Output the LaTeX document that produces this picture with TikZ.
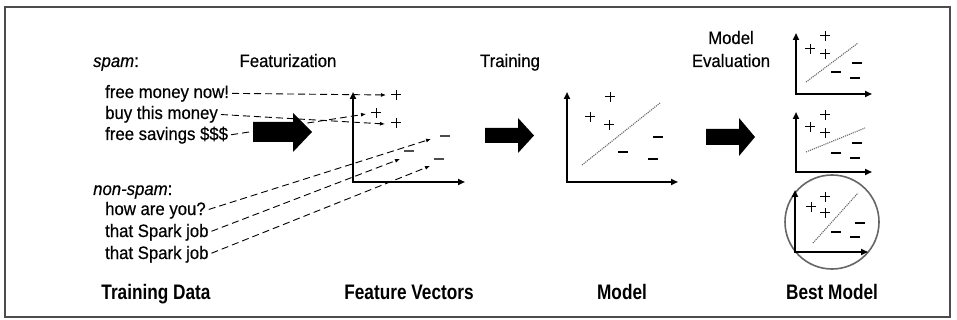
\documentclass[tikz,border=0pt]{standalone}
\usepackage{fontspec}
\setmainfont{Liberation Sans}
\newfontfamily\regf[FakeStretch=0.93,FakeBold=0.4]{Liberation Sans}
\newfontfamily\boldf[FakeStretch=0.82]{Liberation Sans}
\usetikzlibrary{arrows.meta}
\begin{document}
\begin{tikzpicture}[x=1pt,y=-1pt,
  txt/.style={font=\regf\fontsize{18}{20}\selectfont, inner sep=0pt, anchor=base west},
  ttl/.style={font=\regf\fontsize{18}{23}\selectfont, inner sep=0pt, anchor=base, align=center},
  lbl/.style={font=\boldf\bfseries\fontsize{21}{24}\selectfont, inner sep=0pt, anchor=base},
  feed/.style={dash pattern=on 7pt off 4pt, line width=0.9pt, shorten <=3pt, -{Latex[length=5pt,width=4pt]}},
  axis/.style={line width=2pt, {Triangle[length=7pt,width=6pt]}-{Triangle[length=7pt,width=6pt]}},
  fitln/.style={densely dotted, line width=1.1pt, black!60},
  pl/.pic={\draw[line width=1pt] (-5,0)--(5,0) (0,-5)--(0,5);},
  mn/.pic={\draw[line width=1.4pt] (-5,0)--(5,0);},
  fvm/.pic={\draw[line width=1.6pt, black!70] (-5,0)--(5,0);}
]
\useasboundingbox (0,0) rectangle (957,320);
\draw[line width=1.2pt, black!70] (5,7) rectangle (950,317);

% titles
\node[ttl] (feat) at (288,67) {Featurization};
\node[ttl] (train) at (510,67) {Training};
\node[ttl] (eval) at (731,67) {Model\\Evaluation};

% training data texts
\node[txt] (spam) at (93,67) {\textit{spam}:};
\node[txt] (s1) at (105,98) {free money now!};
\node[txt] (s2) at (105,119) {buy this money};
\node[txt] (s3) at (105,140) {free savings \$\$\$};
\node[txt] (nspam) at (93,195) {\textit{non-spam}:};
\node[txt] (n1) at (105,215) {how are you?};
\node[txt] (n2) at (105,237) {that Spark job};
\node[txt] (n3) at (105,259) {that Spark job};

% bottom labels
\node[lbl] (ltd) at (156,299) {Training Data};
\node[lbl] (lfv) at (409,299) {Feature Vectors};
\node[lbl] (lm) at (622,299) {Model};
\node[lbl] (lbm) at (832,299) {Best Model};

% feature vector plot
\draw[axis] (353,92) -- (353,182) -- (465,182);
\pic at (396,95) {pl};
\pic at (376,113) {pl};
\pic at (396,123) {pl};
\pic at (445,136) {fvm};
\pic at (409,151) {fvm};
\pic at (439,159) {fvm};
\coordinate (t1) at (386,95);
\coordinate (t2) at (385,124);
\coordinate (t3) at (366,114);
\coordinate (t4) at (431,139);
\coordinate (t5) at (400,159);
\coordinate (t6) at (430,166);
\draw[feed] (s1.east) -- (t1);
\draw[feed] (s2.east) -- (t2);
\draw[feed] (s3.east) -- (t3);
\draw[feed] (n1.east) -- (t4);
\draw[feed] (n2.east) -- (t5);
\draw[feed] (n3.east) -- (t6);

% big arrows
\fill (253,122) -- (293,122) -- (293,113) -- (312,132) -- (293,152) -- (293,142) -- (253,142) -- cycle;
\fill (485,128) -- (518,128) -- (518,118) -- (534,135.5) -- (518,153) -- (518,143) -- (485,143) -- cycle;
\fill (706,129) -- (739,129) -- (739,118) -- (755,137) -- (739,156) -- (739,145) -- (706,145) -- cycle;

% model plot
\draw[axis] (567,92) -- (567,182) -- (678,182);
\draw[fitln] (582,165) -- (660,103);
\pic at (610,97) {pl};
\pic at (590,117) {pl};
\pic at (609,125) {pl};
\pic at (658,137) {mn};
\pic at (623,152) {mn};
\pic at (653,159) {mn};

% evaluation plot 1
\draw[axis] (796,33) -- (796,94) -- (872,94);
\draw[fitln] (806,82) -- (858,43);
\pic at (825,36) {pl};
\pic at (810,49) {pl};
\pic at (825,54) {pl};
\pic at (857,63) {mn};
\pic at (836,72) {mn};
\pic at (855,78) {mn};

% evaluation plot 2
\draw[axis] (796,112) -- (796,172) -- (872,172);
\draw[fitln] (806,152) -- (865,128);
\pic at (825,115) {pl};
\pic at (810,127) {pl};
\pic at (825,133) {pl};
\pic at (857,143) {mn};
\pic at (836,153) {mn};
\pic at (855,158) {mn};

% evaluation plot 3 (best)
\draw[line width=1.6pt, black!60] (832,222) circle [radius=47];
\draw[axis] (795,190) -- (795,252) -- (868,252);
\draw[fitln] (813,243) -- (858,193);
\pic at (825,197) {pl};
\pic at (811,207) {pl};
\pic at (825,213) {pl};
\pic at (860,223) {mn};
\pic at (836,232) {mn};
\pic at (855,237) {mn};
\end{tikzpicture}
\end{document}
